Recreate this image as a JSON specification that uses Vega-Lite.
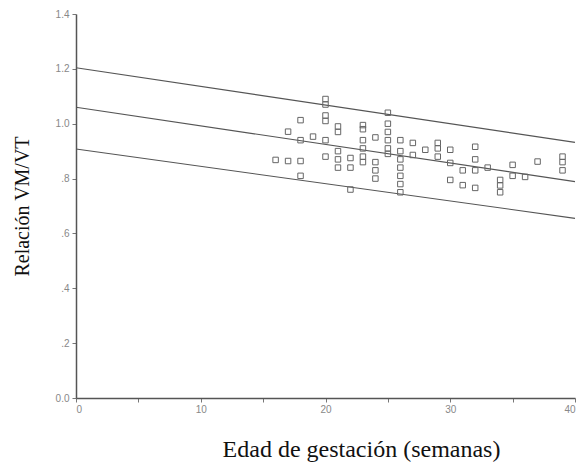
{
  "$schema": "https://vega.github.io/schema/vega-lite/v6.json",
  "autosize": {"type": "none"},
  "width": 499,
  "height": 384,
  "padding": {"left": 76, "top": 14, "right": 8, "bottom": 75},
  "background": "white",
  "config": {"view": {"stroke": null}},
  "datasets": {
    "pts": [
      {"edad": 16, "rel": 0.868},
      {"edad": 17, "rel": 0.864}, {"edad": 17, "rel": 0.971},
      {"edad": 18, "rel": 0.864}, {"edad": 18, "rel": 0.81}, {"edad": 18, "rel": 1.013}, {"edad": 18, "rel": 0.94},
      {"edad": 19, "rel": 0.953},
      {"edad": 20, "rel": 1.09}, {"edad": 20, "rel": 1.07}, {"edad": 20, "rel": 1.03}, {"edad": 20, "rel": 1.01}, {"edad": 20, "rel": 0.94}, {"edad": 20, "rel": 0.88},
      {"edad": 21, "rel": 0.99}, {"edad": 21, "rel": 0.97}, {"edad": 21, "rel": 0.9}, {"edad": 21, "rel": 0.87}, {"edad": 21, "rel": 0.84},
      {"edad": 22, "rel": 0.875}, {"edad": 22, "rel": 0.84}, {"edad": 22, "rel": 0.76},
      {"edad": 23, "rel": 0.995}, {"edad": 23, "rel": 0.98}, {"edad": 23, "rel": 0.94}, {"edad": 23, "rel": 0.91}, {"edad": 23, "rel": 0.88}, {"edad": 23, "rel": 0.86},
      {"edad": 24, "rel": 0.95}, {"edad": 24, "rel": 0.86}, {"edad": 24, "rel": 0.83}, {"edad": 24, "rel": 0.8},
      {"edad": 25, "rel": 1.04}, {"edad": 25, "rel": 1.0}, {"edad": 25, "rel": 0.97}, {"edad": 25, "rel": 0.94}, {"edad": 25, "rel": 0.91}, {"edad": 25, "rel": 0.89},
      {"edad": 26, "rel": 0.94}, {"edad": 26, "rel": 0.9}, {"edad": 26, "rel": 0.87}, {"edad": 26, "rel": 0.84}, {"edad": 26, "rel": 0.81}, {"edad": 26, "rel": 0.78}, {"edad": 26, "rel": 0.75},
      {"edad": 27, "rel": 0.93}, {"edad": 27, "rel": 0.886},
      {"edad": 28, "rel": 0.905},
      {"edad": 29, "rel": 0.93}, {"edad": 29, "rel": 0.91}, {"edad": 29, "rel": 0.88},
      {"edad": 30, "rel": 0.905}, {"edad": 30, "rel": 0.857}, {"edad": 30, "rel": 0.795},
      {"edad": 31, "rel": 0.83}, {"edad": 31, "rel": 0.776},
      {"edad": 32, "rel": 0.916}, {"edad": 32, "rel": 0.87}, {"edad": 32, "rel": 0.83}, {"edad": 32, "rel": 0.766},
      {"edad": 33, "rel": 0.84},
      {"edad": 34, "rel": 0.795}, {"edad": 34, "rel": 0.775}, {"edad": 34, "rel": 0.75},
      {"edad": 35, "rel": 0.85}, {"edad": 35, "rel": 0.81},
      {"edad": 36, "rel": 0.806},
      {"edad": 37, "rel": 0.862},
      {"edad": 39, "rel": 0.88}, {"edad": 39, "rel": 0.86}, {"edad": 39, "rel": 0.83}
    ],
    "lines": [
      {"serie": "sup", "edad": 0, "rel": 1.204}, {"serie": "sup", "edad": 40, "rel": 0.932},
      {"serie": "med", "edad": 0, "rel": 1.06}, {"serie": "med", "edad": 40, "rel": 0.789},
      {"serie": "inf", "edad": 0, "rel": 0.908}, {"serie": "inf", "edad": 40, "rel": 0.655}
    ]
  },
  "layer": [
    {
      "data": {"name": "lines"},
      "mark": {"type": "line", "color": "#555555", "strokeWidth": 1.1},
      "encoding": {
        "x": {
          "field": "edad", "type": "quantitative",
          "scale": {"domain": [0, 40], "nice": false},
          "axis": {
            "values": [0, 5, 10, 15, 20, 25, 30, 35, 40],
            "labelExpr": "datum.value % 10 == 0 ? datum.label : ''",
            "grid": false,
            "domainColor": "#555555",
            "domainWidth": 1.5,
            "tickColor": "#777777",
            "tickSize": 4,
            "labelColor": "#888888",
            "labelFont": "Liberation Sans",
            "labelFontSize": 10,
            "labelPadding": 2,
            "title": "Edad de gestación (semanas)",
            "titleFont": "Liberation Serif",
            "titleFontSize": 24,
            "titleFontWeight": "normal",
            "titleColor": "#111111",
            "titleX": 285,
            "titleY": 58,
            "titleBaseline": "alphabetic",
            "titleAlign": "center"
          }
        },
        "y": {
          "field": "rel", "type": "quantitative",
          "scale": {"domain": [0, 1.4], "nice": false},
          "axis": {
            "values": [0, 0.1, 0.2, 0.3, 0.4, 0.5, 0.6, 0.7, 0.8, 0.9, 1.0, 1.1, 1.2, 1.3, 1.4],
            "labelExpr": "round(datum.value * 10) % 2 == 1 ? '' : (datum.value == 0 ? '0.0' : (datum.value < 1 ? replace(format(datum.value, '.1f'), '0.', '.') : format(datum.value, '.1f')))",
            "grid": false,
            "domainColor": "#555555",
            "domainWidth": 1.5,
            "tickColor": "#777777",
            "tickSize": 4,
            "labelColor": "#888888",
            "labelFont": "Liberation Sans",
            "labelFontSize": 10,
            "labelPadding": 3,
            "title": "Relación VM/VT",
            "titleFont": "Liberation Serif",
            "titleFontSize": 20,
            "titleFontWeight": "normal",
            "titleColor": "#111111",
            "titleAngle": -90,
            "titleX": -48,
            "titleY": 192,
            "titleBaseline": "alphabetic",
            "titleAlign": "center"
          }
        },
        "detail": {"field": "serie", "type": "nominal"}
      }
    },
    {
      "data": {"name": "pts"},
      "mark": {"type": "point", "shape": "square", "filled": false, "size": 30, "stroke": "#666666", "strokeWidth": 1, "opacity": 1},
      "encoding": {
        "x": {"field": "edad", "type": "quantitative"},
        "y": {"field": "rel", "type": "quantitative"}
      }
    }
  ]
}
